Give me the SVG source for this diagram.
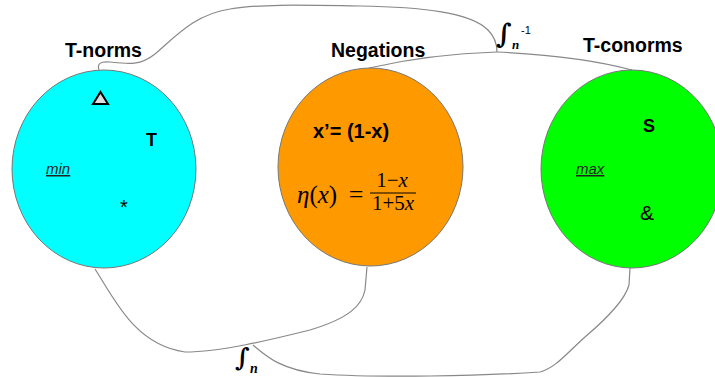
<svg xmlns="http://www.w3.org/2000/svg" width="715" height="377" viewBox="0 0 715 377">
<style>
.node{stroke:#777;stroke-width:1}
.title{font-family:"Liberation Sans",Arial,sans-serif;font-weight:bold;font-size:19.5px;fill:#000}
.bold{font-family:"Liberation Sans",Arial,sans-serif;font-weight:bold;fill:#000}
.it{font-family:"Liberation Sans",Arial,sans-serif;font-style:italic;font-size:15px;fill:#222;text-decoration:underline}
.math{font-family:"Liberation Serif","Times New Roman",serif;font-style:italic;fill:#000}
.num{font-family:"Liberation Serif","Times New Roman",serif;fill:#000}
.conn{fill:none;stroke:#888;stroke-width:1.2}
.fn{font-family:"DejaVu Serif",serif;font-weight:bold;fill:#000}
.sub{font-family:"Liberation Serif","Times New Roman",serif;font-style:italic;font-weight:bold}
.sup{font-family:"Liberation Sans",Arial,sans-serif;font-weight:normal}
</style>
<rect width="715" height="377" fill="#fff"/>
<g id="connectors">
<path class="conn" d="M99,70 C97,64 100,61 110,62 C128,64 140,66 155,54 C175,37 195,14 230,9 C260,4 300,5 360,6 C420,7 470,12 488,30 C495,37 497,45 497,52"/>
<path class="conn" d="M497,52 Q430,54 369,68"/>
<path class="conn" d="M497,52 Q580,56 632,70"/>
<path class="conn" d="M95,269 C115,300 135,345 185,352 C220,352 270,340 310,330 C350,318 362,305 365,290 L367,267"/>
<path class="conn" d="M253,345 C265,355 280,370 320,374 C380,378 480,376 540,372 C555,368 565,355 585,337 C605,320 625,300 629,285 L630,268"/>
</g>
<g id="tnorms">
<ellipse class="node" cx="104" cy="169" rx="92" ry="99" fill="#00ffff"/>
<text class="title" x="65" y="57">T-norms</text>
<polygon points="100.5,92 108,104 93,104" fill="#ddd" stroke="#000" stroke-width="2" stroke-linejoin="miter"/>
<text class="bold" x="146" y="146" font-size="18">T</text>
<text class="it" x="46" y="174">min</text>
<text x="124" y="214" text-anchor="middle" font-family="Liberation Sans, Arial, sans-serif" font-size="20" fill="#000">*</text>
</g>
<g id="negations">
<ellipse class="node" cx="370.5" cy="167" rx="92.5" ry="99" fill="#ff9900"/>
<text class="title" x="331" y="57">Negations</text>
<text class="bold" x="313" y="138" font-size="20">x’= (1-x)</text>
<text class="math" x="297" y="203" font-size="25">η<tspan font-style="normal">(</tspan>x<tspan font-style="normal">)</tspan></text>
<text class="num" x="356" y="203" font-size="26" text-anchor="middle">=</text>
<text class="num" x="392" y="187" font-size="21" text-anchor="middle">1−<tspan font-style="italic">x</tspan></text>
<line x1="370" y1="193" x2="416" y2="193" stroke="#000" stroke-width="1"/>
<text class="num" x="393" y="210" font-size="21" text-anchor="middle">1+5<tspan font-style="italic">x</tspan></text>
</g>
<g id="tconorms">
<ellipse class="node" cx="632" cy="169" rx="91" ry="99" fill="#00ff00"/>
<text class="title" x="583" y="52">T-conorms</text>
<text class="bold" x="643" y="132" font-size="18">S</text>
<text class="it" x="576" y="174">max</text>
<text x="647" y="220" text-anchor="middle" font-family="Liberation Sans, Arial, sans-serif" font-size="21" fill="#000">&amp;</text>
</g>
<g id="labels">
<text class="fn" x="496" y="43" font-size="27">∫<tspan class="sub" x="512" y="49" font-size="13">n</tspan><tspan class="sup" x="521" y="34" font-size="11">-1</tspan></text>
<text class="fn" x="235" y="366" font-size="25">∫<tspan class="sub" x="250" y="373" font-size="14">n</tspan></text>
</g>
</svg>
